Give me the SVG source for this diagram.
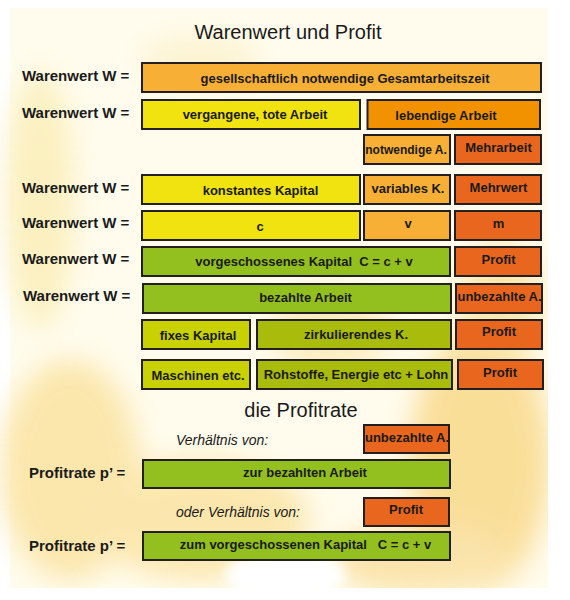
<svg xmlns="http://www.w3.org/2000/svg" width="570" height="600" viewBox="0 0 570 600">
<defs>
<filter id="blur" x="-30%" y="-30%" width="160%" height="160%"><feGaussianBlur stdDeviation="14"/></filter>
<filter id="blur2" x="-30%" y="-30%" width="160%" height="160%"><feGaussianBlur stdDeviation="6"/></filter>
<style>
.box{stroke:#231f20;stroke-width:2}
.t{font-family:"Liberation Sans",Arial,sans-serif;font-weight:bold;font-size:13px;fill:#1a1a1a;text-anchor:middle}
.lbl{font-family:"Liberation Sans",Arial,sans-serif;font-weight:bold;font-size:15px;fill:#1a1a1a}
.ttl{font-family:"Liberation Sans",Arial,sans-serif;font-size:20px;fill:#1a1a1a;text-anchor:middle}
.it{font-family:"Liberation Sans",Arial,sans-serif;font-style:italic;font-size:14px;fill:#1a1a1a}
.lo{fill:#f8af35}.ye{fill:#f0e30f}.do{fill:#f39200}.rd{fill:#e9661e}.gr{fill:#93c01f}.yg{fill:#c9d200}.ol{fill:#a9bc0b}
</style>
</defs>
<g id="background">
<rect x="0" y="0" width="570" height="600" fill="#ffffff"/>
<rect x="10" y="8" width="538" height="580" fill="#fffcee"/>
<g filter="url(#blur)" opacity="0.85">
<ellipse cx="40" cy="200" rx="35" ry="130" fill="#fbeeb8"/>
<ellipse cx="70" cy="470" rx="70" ry="110" fill="#fbe3a0"/>
<ellipse cx="200" cy="520" rx="110" ry="60" fill="#fbe4a4"/>
<ellipse cx="480" cy="460" rx="70" ry="130" fill="#f9d98a"/>
<ellipse cx="420" cy="560" rx="90" ry="35" fill="#fae0a0"/>
<ellipse cx="330" cy="330" rx="60" ry="40" fill="#fbe9b5"/>
<ellipse cx="500" cy="300" rx="40" ry="60" fill="#fbe5a6"/>
<ellipse cx="200" cy="60" rx="60" ry="25" fill="#fcf2cc"/>
</g>
<ellipse cx="285" cy="575" rx="60" ry="25" fill="#ffffff" filter="url(#blur2)"/>
<rect x="548" y="0" width="22" height="600" fill="#ffffff"/>
<rect x="0" y="588" width="570" height="12" fill="#ffffff"/>
</g>
<g id="titles">
<text class="ttl" x="288" y="39">Warenwert und Profit</text>
<text class="ttl" x="301" y="417">die Profitrate</text>
</g>
<g id="labels">
<text class="lbl" x="22" y="81">Warenwert W =</text>
<text class="lbl" x="22" y="118">Warenwert W =</text>
<text class="lbl" x="22" y="193">Warenwert W =</text>
<text class="lbl" x="22" y="228">Warenwert W =</text>
<text class="lbl" x="22" y="264">Warenwert W =</text>
<text class="lbl" x="23" y="301">Warenwert W =</text>
<text class="lbl" x="29" y="478">Profitrate p’ =</text>
<text class="lbl" x="29" y="551">Profitrate p’ =</text>
<text class="it" x="176" y="445">Verhältnis von:</text>
<text class="it" x="176" y="517">oder Verhältnis von:</text>
</g>
<g id="n1"><rect class="box lo" x="142" y="63" width="399" height="29"/><text class="t" x="345" y="83">gesellschaftlich notwendige Gesamtarbeitszeit</text></g>
<g id="n2"><rect class="box ye" x="142" y="100" width="218" height="29"/><text class="t" x="255" y="119">vergangene, tote Arbeit</text></g>
<g id="n3"><rect class="box do" x="367.5" y="100" width="172.5" height="29"/><text class="t" x="446" y="120">lebendige Arbeit</text></g>
<g id="n4"><rect class="box lo" x="364" y="135" width="86" height="29"/><text class="t" x="406" y="154" style="font-size:12px">notwendige A.</text></g>
<g id="n5"><rect class="box rd" x="455" y="135" width="86" height="29"/><text class="t" x="498.5" y="152">Mehrarbeit</text></g>
<g id="n6"><rect class="box ye" x="142" y="175" width="218" height="29"/><text class="t" x="260.5" y="195">konstantes Kapital</text></g>
<g id="n7"><rect class="box lo" x="364" y="175" width="86" height="29"/><text class="t" x="408" y="193">variables K.</text></g>
<g id="n8"><rect class="box rd" x="455" y="175" width="86" height="29"/><text class="t" x="498.5" y="192">Mehrwert</text></g>
<g id="n9"><rect class="box ye" x="142" y="211" width="218" height="29"/><text class="t" x="260" y="231">c</text></g>
<g id="n10"><rect class="box lo" x="364" y="211" width="86" height="29"/><text class="t" x="408" y="228">v</text></g>
<g id="n11"><rect class="box rd" x="455" y="211" width="86" height="29"/><text class="t" x="498.5" y="228">m</text></g>
<g id="n12"><rect class="box gr" x="142" y="247" width="308" height="29"/><text class="t" x="304" y="266" xml:space="preserve">vorgeschossenes Kapital  C = c + v</text></g>
<g id="n13"><rect class="box rd" x="455" y="247" width="86" height="29"/><text class="t" x="498.5" y="264">Profit</text></g>
<g id="n14"><rect class="box gr" x="143" y="284" width="308" height="29"/><text class="t" x="305.5" y="302">bezahlte Arbeit</text></g>
<g id="n15"><rect class="box rd" x="456" y="284" width="86" height="29"/><text class="t" x="499.5" y="301">unbezahlte A.</text></g>
<g id="n16"><rect class="box yg" x="142" y="320" width="108" height="29"/><text class="t" x="198" y="340">fixes Kapital</text></g>
<g id="n17"><rect class="box ol" x="257" y="320" width="194" height="29"/><text class="t" x="356" y="339">zirkulierendes K.</text></g>
<g id="n18"><rect class="box rd" x="456" y="320" width="86" height="29"/><text class="t" x="499" y="336">Profit</text></g>
<g id="n19"><rect class="box yg" x="142" y="360" width="108" height="29"/><text class="t" x="198" y="380">Maschinen etc.</text></g>
<g id="n20"><rect class="box ol" x="257" y="360" width="195" height="29"/><text class="t" x="356" y="379">Rohstoffe, Energie etc + Lohn</text></g>
<g id="n21"><rect class="box rd" x="458" y="360" width="85" height="29"/><text class="t" x="500" y="377">Profit</text></g>
<g id="n22"><rect class="box rd" x="364" y="425" width="85" height="28"/><text class="t" x="407" y="442">unbezahlte A.</text></g>
<g id="n23"><rect class="box gr" x="143" y="460" width="307" height="28"/><text class="t" x="305" y="477">zur bezahlten Arbeit</text></g>
<g id="n24"><rect class="box rd" x="364" y="498" width="85" height="28"/><text class="t" x="406" y="514">Profit</text></g>
<g id="n25"><rect class="box gr" x="143" y="532" width="307" height="28"/><text class="t" x="305.5" y="549" xml:space="preserve">zum vorgeschossenen Kapital   C = c + v</text></g>
<g id="connectors"/>
</svg>
